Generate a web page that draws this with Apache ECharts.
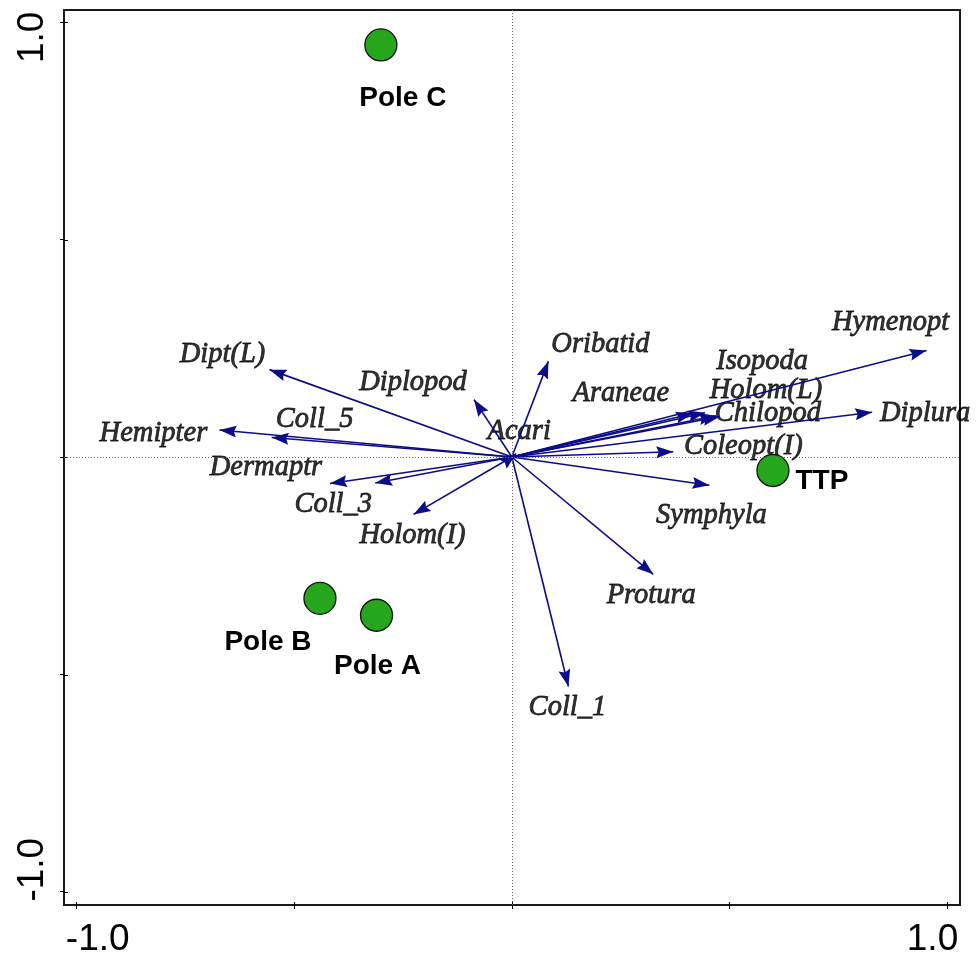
<!DOCTYPE html>
<html><head><meta charset="utf-8">
<script src="https://cdn.jsdelivr.net/npm/echarts@6/dist/echarts.min.js"></script>
<style>html,body{margin:0;padding:0;background:#fff}#c{width:978px;height:958px}</style>
</head><body><div id="c"></div>
<script>
// Species (arrows)
const species = ['Hymenopt','Diplura','Isopoda','Holom(L)','Chilopod','Araneae','Coleopt(I)','Symphyla','Protura','Coll_1','Oribatid','Acari','Diplopod','Dipt(L)','Hemipter','Coll_5','Dermaptr','Coll_3','Holom(I)'];
const speciesX = [0.953,0.828,0.444,0.469,0.478,0.416,0.371,0.454,0.325,0.130,0.084,0.010,-0.087,-0.557,-0.672,-0.552,-0.418,-0.314,-0.226];
const speciesY = [0.245,0.103,0.102,0.095,0.093,0.100,0.012,-0.065,-0.270,-0.528,0.220,0.008,0.132,0.201,0.062,0.045,-0.061,-0.060,-0.132];
// Sites (points)
const sites = ['Pole A','Pole B','Pole C','TTP'];
const siteX = [-0.311,-0.441,-0.301,0.600];
const siteY = [-0.364,-0.325,0.948,-0.031];
// Axis ticks / labels
const xTicks = [-1,-0.5,0,0.5,1];
const yTicks = [-1,-0.5,0,0.5,1];
const xLabelVals = [-1,1];
const xLabelTexts = ['-1.0','1.0'];
const yLabelVals = [-1,1];
const yLabelTexts = ['-1.0','1.0'];

// layout-only label offsets (pixels)
const speciesLabelOffset = [[-36,-28],[53,1],[57,-51],[50,-25],[48,-3],[-72,-20],[70,-5],[2,30],[-2,21],[-1,21],[52,-17],[3,-22],[-61,-17],[-47,-15],[-66,3],[43,-18],[-64,-16],[-42,21],[-1,21]];
const siteLabelOffset = [[1,51],[-52,44],[22,53],[49,11]];

const chart = echarts.init(document.getElementById('c'), null, {renderer:'canvas'});
const XMIN=-1.0292, XMAX=1.0299, YMIN=-1.0306, YMAX=1.0283;
const gridPos = {left:64, top:10, width:896, height:896};
function labelFmt(vals, texts, richKeys){
  return function(v){ const i = vals.findIndex(a=>Math.abs(a-v)<1e-6); return i<0?'':'{'+richKeys[i]+'|'+texts[i]+'}'; };
}
const axisFont = {fontFamily:'Liberation Sans, Arial, sans-serif', fontSize:37, color:'#000'};
// arrowhead: filled triangle whose tip sits at the symbol centre (the line end)
const arrowHead = 'path://M6,-17 M6,0 L12,17 L6,14.5 L0,17 Z';
const option = {
  animation:false,
  backgroundColor:'#fff',
  grid:[Object.assign({show:true, borderColor:'#1a1a1a', borderWidth:2, backgroundColor:'transparent'}, gridPos),
        Object.assign({show:false}, gridPos)],
  xAxis:[{
    type:'value', gridIndex:0, min:XMIN, max:XMAX, position:'bottom',
    axisLine:{show:false, onZero:false}, splitLine:{show:false},
    axisTick:{show:true, inside:false, length:4, customValues:xTicks, lineStyle:{color:'#000',width:1}},
    axisLabel:{show:true, margin:16, customValues:xLabelVals,
      formatter: labelFmt(xLabelVals, xLabelTexts, ['lo','hi']),
      rich:{lo:Object.assign({padding:[0,0,0,42]},axisFont), hi:Object.assign({padding:[0,29,0,0]},axisFont)}}
  },{
    type:'value', gridIndex:1, min:XMIN, max:XMAX, position:'bottom',
    axisLine:{show:false, onZero:false}, splitLine:{show:false}, axisLabel:{show:false},
    axisTick:{show:true, inside:true, length:4, customValues:xTicks, lineStyle:{color:'#000',width:1}}
  }],
  yAxis:[{
    type:'value', gridIndex:0, min:YMIN, max:YMAX, position:'left',
    axisLine:{show:false, onZero:false}, splitLine:{show:false},
    axisTick:{show:true, inside:false, length:4, customValues:yTicks, lineStyle:{color:'#000',width:1}},
    axisLabel:{show:true, rotate:90, margin:13, customValues:yLabelVals,
      formatter: labelFmt(yLabelVals, yLabelTexts, ['lo','hi']),
      rich:{lo:Object.assign({padding:[0,0,0,44]},axisFont), hi:Object.assign({padding:[0,30,0,0]},axisFont)}}
  },{
    type:'value', gridIndex:1, min:YMIN, max:YMAX, position:'left',
    axisLine:{show:false, onZero:false}, splitLine:{show:false}, axisLabel:{show:false},
    axisTick:{show:true, inside:true, length:4, customValues:yTicks, lineStyle:{color:'#000',width:1}}
  }],
  series:[
    {
      type:'scatter', xAxisIndex:0, yAxisIndex:0, z:1, silent:true,
      symbolSize:0,
      data: species.map((n,i)=>({name:n, value:[speciesX[i],speciesY[i]],
        label:{offset:speciesLabelOffset[i]}})),
      label:{show:true, position:'inside', align:'center', verticalAlign:'middle',
        formatter:p=>p.name, fontFamily:'Liberation Serif, Times New Roman, serif',
        fontStyle:'italic', fontSize:28.5, color:'#000', textBorderColor:'#000', textBorderWidth:0.8},
      markLine:{silent:true, symbol:['none','none'], label:{show:false},
        lineStyle:{color:'#666', width:1, type:[1,2]},
        data:[{xAxis:0},{yAxis:0}]}
    },
    {
      type:'lines', coordinateSystem:'cartesian2d', xAxisIndex:0, yAxisIndex:0, z:3, silent:true,
      symbol:['none', arrowHead], symbolSize:[0,[12,34]],
      lineStyle:{color:'#0c0c88', width:1.6, opacity:1, curveness:0},
      itemStyle:{color:'#0c0c88'},
      data: species.map((n,i)=>({name:n, coords:[[0,0],[speciesX[i],speciesY[i]]]}))
    },
    {
      type:'scatter', xAxisIndex:0, yAxisIndex:0, z:4, silent:true,
      symbol:'circle', symbolSize:32,
      itemStyle:{color:'#26a61c', borderColor:'#111', borderWidth:1.3, opacity:1},
      data: sites.map((n,i)=>({name:n, value:[siteX[i],siteY[i]], label:{offset:siteLabelOffset[i]}})),
      label:{show:true, position:'inside', align:'center', verticalAlign:'middle',
        formatter:p=>p.name, fontFamily:'Liberation Sans, Arial, sans-serif',
        fontWeight:'bold', fontSize:28, color:'#000'}
    }
  ]
};
chart.setOption(option);
</script>
</body></html>
